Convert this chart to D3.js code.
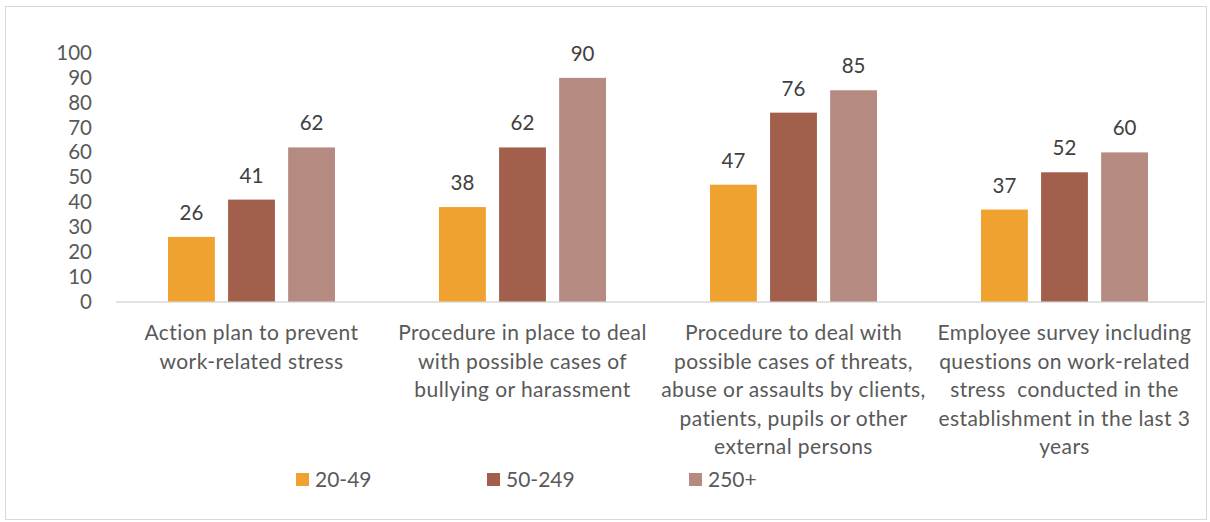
<!DOCTYPE html>
<html>
<head>
<meta charset="utf-8">
<script src="https://cdn.jsdelivr.net/npm/d3@7"></script>
<style>
  html, body { margin: 0; padding: 0; background: #fff; }
  svg { display: block; }
</style>
</head>
<body>
<svg id="chart" width="1210" height="522"></svg>
<script>
// Share of establishments by size class
const categories = [
  ["Action plan to prevent", "work-related stress"],
  ["Procedure in place to deal", "with possible cases of", "bullying or harassment"],
  ["Procedure to deal with", "possible cases of threats,", "abuse or assaults by clients,", "patients, pupils or other", "external persons"],
  ["Employee survey including", "questions on work-related", "stress\u00a0 conducted in the", "establishment in the last 3", "years"]
];
const seriesNames = ["20-49", "50-249", "250+"];
const values20to49 = [26, 38, 47, 37];
const values50to249 = [41, 62, 76, 52];
const values250plus = [62, 90, 85, 60];
const yTicks = [0, 10, 20, 30, 40, 50, 60, 70, 80, 90, 100];
const colors = ["#EFA22F", "#A2604C", "#B58A80"];

const series = [values20to49, values50to249, values250plus];
const font = "Lato, 'Open Sans', sans-serif";

const svg = d3.select("#chart");

// Outer frame
svg.append("rect")
  .attr("x", 5.5).attr("y", 6.5)
  .attr("width", 1201).attr("height", 513)
  .attr("fill", "none").attr("stroke", "#D9D9D9").attr("stroke-width", 1);

const x0 = d3.scaleBand().domain(d3.range(categories.length)).range([116, 1200]).paddingInner(0).paddingOuter(0);
const y = d3.scaleLinear().domain([0, 100]).range([301.5, 53]);
const x1 = d3.scaleBand().domain(d3.range(series.length)).range([0, 167]).paddingInner(0.22).paddingOuter(0);
const groupOffset = (x0.bandwidth() - 167) / 2;

// Y axis tick labels
const yAxis = d3.axisLeft(y).tickValues(yTicks).tickSize(0).tickPadding(0);
const yg = svg.append("g").attr("transform", "translate(92,0)").call(yAxis);
yg.select(".domain").remove();
yg.selectAll("text")
  .attr("font-family", font).attr("font-size", 20.5).attr("fill", "#595959");

// Baseline
svg.append("line")
  .attr("x1", 116).attr("x2", 1205)
  .attr("y1", y(0) + 0.5).attr("y2", y(0) + 0.5)
  .attr("stroke", "#D9D9D9").attr("stroke-width", 1.5);

// Bars and value labels
const groups = svg.selectAll("g.cat")
  .data(categories.map((c, i) => i))
  .join("g").attr("class", "cat")
  .attr("transform", i => `translate(${x0(i) + groupOffset},0)`);

series.forEach((vals, s) => {
  groups.append("rect")
    .attr("x", x1(s))
    .attr("y", i => y(vals[i]))
    .attr("width", x1.bandwidth())
    .attr("height", i => y(0) - y(vals[i]))
    .attr("fill", colors[s]);
  groups.append("text")
    .attr("x", x1(s) + x1.bandwidth() / 2)
    .attr("y", i => y(vals[i]) - 17)
    .attr("text-anchor", "middle")
    .attr("font-family", font).attr("font-size", 20.5).attr("fill", "#404040")
    .text(i => vals[i]);
});

// Category labels
categories.forEach((lines, i) => {
  const t = svg.append("text")
    .attr("text-anchor", "middle")
    .attr("font-family", font).attr("font-size", 21).attr("letter-spacing", 0.4)
    .attr("fill", "#595959");
  lines.forEach((ln, k) => {
    t.append("tspan")
      .attr("x", x0(i) + x0.bandwidth() / 2)
      .attr("y", 340 + k * 28.5)
      .text(ln);
  });
});

// Legend
const legendX = [296, 487, 689];
seriesNames.forEach((name, s) => {
  svg.append("rect")
    .attr("x", legendX[s]).attr("y", 473)
    .attr("width", 13).attr("height", 13)
    .attr("fill", colors[s]);
  svg.append("text")
    .attr("x", legendX[s] + 19).attr("y", 487)
    .attr("font-family", font).attr("font-size", 21).attr("fill", "#595959")
    .text(name);
});
</script>
</body>
</html>
